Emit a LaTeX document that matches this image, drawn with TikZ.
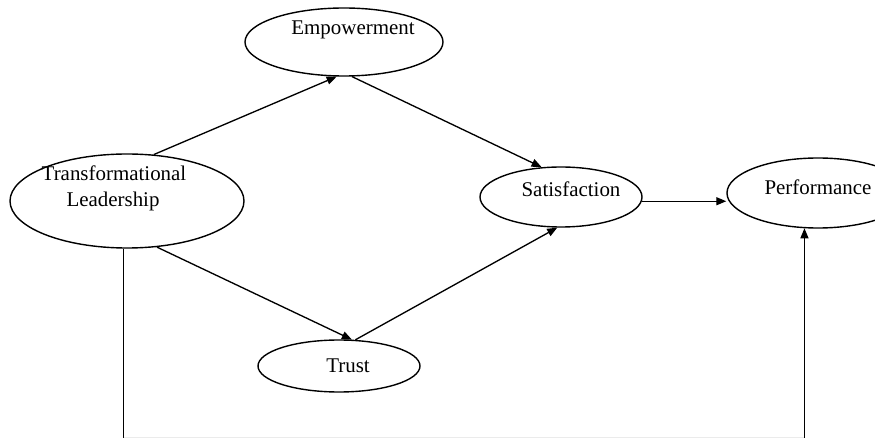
\documentclass[tikz,border=0pt]{standalone}
\usepackage{fontspec}
\setmainfont{Liberation Serif}
\usetikzlibrary{shapes.geometric,arrows.meta}
\tikzset{
  ell/.style 2 args={ellipse, draw=black, line width=1.05pt, inner sep=0pt,
    minimum width=#1*0.75pt, minimum height=#2*0.75pt},
  lbl/.style={anchor=base, inner sep=0pt, font=\fontsize{15.7}{20}\selectfont},
  conn/.style={draw=black, line width=1pt},
  arr/.style={conn, -{Triangle[length=7.5pt,width=6pt]}},
}
\begin{document}
\begin{tikzpicture}[x=0.75pt,y=-0.75pt]
\useasboundingbox (0,0) rectangle (875,438);
% ellipses
\node[ell={198}{68}] (emp) at (344,42) {};
\node[ell={234}{94}] (tl) at (127,201) {};
\node[ell={162}{60}] (sat) at (561,197) {};
\node[ell={182}{70}] (perf) at (818,193) {};
\node[ell={162}{52}] (trust) at (339,366) {};
% labels
\node[lbl] (empt) at (353,35) {Empowerment};
\node[lbl] (tlt1) at (114,181) {Transformational};
\node[lbl] (tlt2) at (113,207) {Leadership};
\node[lbl] (satt) at (571,197) {Satisfaction};
\node[lbl] (perft) at (818,195) {Performance};
\node[lbl] (trustt) at (348,373) {Trust};
% bottom reference
\coordinate (bot) at (0,442);
\coordinate (faint) at (0,437.5);
% connectors
\draw[arr] (tl.60) -- (emp.-102);
\draw[arr] (emp.-77) -- (sat.123);
\draw[arr] (tl.-57) -- (trust.64);
\draw[arr] (trust.58) -- (sat.-97);
\draw[arr] (sat.-3) -- (sat.-3 -| perf.west);
\draw[conn] (tl.-94) -- (tl.-94 |- bot);
\draw[arr] (perf.-111 |- bot) -- (perf.-111);
\draw[draw=black!8, line width=0.6pt] (tl.-94 |- faint) -- (perf.-111 |- faint);
\end{tikzpicture}
\end{document}
